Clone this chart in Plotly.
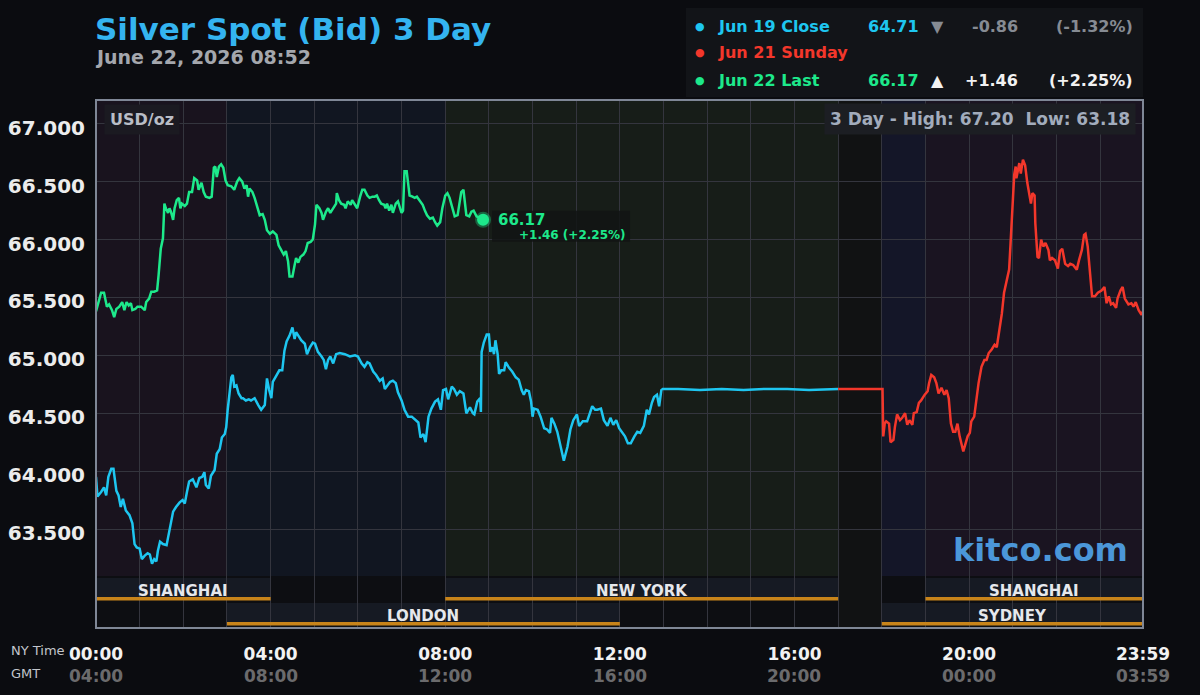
import plotly.graph_objects as go

# ---------------- data ----------------
title_text = "Silver Spot (Bid) 3 Day"
date_text = "June 22, 2026 08:52"

# Jun 19 (cyan) – minutes after NY midnight, price
jun19_min = [0, 2, 7, 11, 14, 17, 21, 24, 28, 31, 34, 37, 41, 46, 50, 53, 56, 60, 63, 67, 71, 74, 77, 80, 83, 85, 88, 92, 97, 101,
             106, 110, 115, 119, 122, 125, 128, 133, 138, 142, 146, 149, 151, 155, 158, 163, 166, 170, 173, 177, 179, 181, 184, 186,
             188, 190, 193, 196, 200, 202, 206, 210, 213, 218, 223, 227, 232, 235, 238, 241, 243, 248, 252, 256, 259, 262, 266, 270,
             273, 275, 279, 282, 287, 290, 294, 298, 301, 305, 310, 313, 316, 319, 322, 326, 330, 335, 342, 349, 356, 360, 365, 369,
             373, 376, 381, 385, 390, 394, 397, 400, 404, 408, 412, 415, 420, 424, 429, 434, 438, 443, 446, 450, 453, 457, 461, 466,
             470, 474, 477, 481, 484, 489, 492, 496, 500, 505, 509, 514, 518, 520, 524, 528, 529, 530, 533, 537, 540, 542, 545, 547,
             549, 552, 554, 557, 561, 563, 568, 572, 577, 581, 585, 588, 591, 595, 598, 600, 602, 607, 611, 616, 620, 624, 626, 630,
             634, 638, 641, 643, 648, 652, 656, 661, 664, 669, 675, 678, 682, 686, 689, 694, 698, 703, 707, 711, 715, 719, 724, 727,
             731, 735, 740, 744, 748, 753, 757, 760, 764, 767, 771, 774, 777, 779, 800, 830, 860, 890, 920, 950, 980, 1020]
jun19_px = [63.95, 63.78, 63.82, 63.86, 63.79, 63.95, 64.02, 64.02, 63.83, 63.79, 63.69, 63.76, 63.66, 63.62, 63.55, 63.37, 63.34,
            63.33, 63.24, 63.27, 63.29, 63.28, 63.20, 63.24, 63.22, 63.31, 63.39, 63.37, 63.36, 63.49, 63.65, 63.69, 63.73, 63.75,
            63.72, 63.82, 63.91, 63.93, 63.86, 63.94, 63.95, 63.99, 63.88, 63.85, 63.96, 64.01, 64.15, 64.19, 64.29, 64.32, 64.38,
            64.53, 64.67, 64.81, 64.83, 64.73, 64.74, 64.67, 64.63, 64.63, 64.61, 64.62, 64.61, 64.63, 64.57, 64.53, 64.57, 64.80,
            64.70, 64.63, 64.77, 64.83, 64.87, 64.87, 65.04, 65.12, 65.17, 65.24, 65.14, 65.20, 65.16, 65.13, 65.10, 65.01, 65.07,
            65.11, 65.10, 65.03, 64.99, 64.96, 64.88, 64.96, 64.99, 64.93, 65.01, 65.02, 65.01, 64.99, 65.00, 64.99, 64.93, 64.90,
            64.94, 64.93, 64.86, 64.83, 64.78, 64.80, 64.71, 64.74, 64.77, 64.78, 64.76, 64.68, 64.61, 64.53, 64.47, 64.47, 64.45,
            64.42, 64.29, 64.32, 64.25, 64.47, 64.54, 64.60, 64.62, 64.53, 64.70, 64.71, 64.62, 64.73, 64.71, 64.66, 64.69, 64.67,
            64.50, 64.55, 64.50, 64.49, 64.60, 64.63, 64.51, 65.03, 65.11, 65.18, 65.18, 65.03, 65.07, 65.01, 65.13, 65.01, 64.84,
            64.87, 64.87, 64.94, 64.89, 64.86, 64.81, 64.79, 64.70, 64.66, 64.70, 64.69, 64.60, 64.47, 64.54, 64.53, 64.47, 64.37,
            64.36, 64.33, 64.46, 64.41, 64.34, 64.24, 64.14, 64.09, 64.21, 64.36, 64.44, 64.49, 64.39, 64.43, 64.43, 64.49, 64.56,
            64.53, 64.53, 64.54, 64.44, 64.39, 64.46, 64.40, 64.44, 64.37, 64.33, 64.30, 64.24, 64.24, 64.30, 64.34, 64.33, 64.39,
            64.53, 64.49, 64.59, 64.64, 64.66, 64.56, 64.70, 64.71, 64.71, 64.70, 64.71, 64.70, 64.71, 64.71, 64.70, 64.71]

# Jun 21 Sunday (red)
jun21_min = [1020, 1081, 1082, 1084, 1086, 1090, 1092, 1096, 1098, 1101, 1105, 1108, 1112, 1115, 1118, 1122, 1124, 1128, 1131, 1134,
             1139, 1143, 1145, 1148, 1152, 1155, 1158, 1162, 1166, 1169, 1172, 1175, 1178, 1181, 1184, 1187, 1192, 1195, 1198, 1201,
             1203, 1207, 1210, 1213, 1217, 1221, 1224, 1227, 1231, 1235, 1238, 1241, 1245, 1248, 1252, 1255, 1257, 1259, 1262, 1264,
             1265, 1269, 1271, 1274, 1277, 1280, 1283, 1285, 1287, 1290, 1291, 1294, 1296, 1299, 1302, 1305, 1309, 1311, 1314, 1318,
             1322, 1325, 1328, 1332, 1336, 1339, 1343, 1348, 1351, 1355, 1358, 1360, 1363, 1366, 1369, 1373, 1377, 1382, 1386, 1389,
             1392, 1395, 1398, 1402, 1404, 1408, 1411, 1414, 1419, 1423, 1426, 1429, 1433, 1437, 1439]
jun21_px = [64.71, 64.71, 64.30, 64.41, 64.43, 64.41, 64.25, 64.27, 64.38, 64.49, 64.44, 64.46, 64.50, 64.40, 64.44, 64.40, 64.50,
            64.51, 64.59, 64.61, 64.66, 64.69, 64.76, 64.83, 64.81, 64.76, 64.67, 64.72, 64.66, 64.70, 64.63, 64.41, 64.34, 64.34,
            64.41, 64.30, 64.17, 64.24, 64.30, 64.33, 64.43, 64.47, 64.62, 64.76, 64.90, 64.96, 64.96, 65.02, 65.05, 65.09, 65.07,
            65.20, 65.36, 65.54, 65.64, 65.74, 65.97, 66.26, 66.56, 66.63, 66.53, 66.66, 66.57, 66.69, 66.64, 66.49, 66.40, 66.31,
            66.40, 66.38, 66.14, 65.85, 65.84, 66.00, 65.94, 65.97, 65.91, 65.82, 65.84, 65.82, 65.75, 65.90, 65.92, 65.79, 65.77,
            65.79, 65.78, 65.74, 65.82, 65.91, 66.04, 66.05, 65.94, 65.71, 65.51, 65.51, 65.54, 65.56, 65.59, 65.45, 65.51, 65.44,
            65.45, 65.41, 65.49, 65.56, 65.59, 65.49, 65.44, 65.45, 65.42, 65.46, 65.39, 65.35, 65.38]

# Jun 22 (green)
jun22_min = [0, 4, 7, 11, 15, 18, 22, 25, 28, 32, 36, 39, 42, 45, 48, 50, 54, 57, 62, 67, 69, 73, 76, 80, 84, 86, 89, 92, 93, 94, 96,
             99, 101, 103, 106, 108, 111, 114, 116, 118, 122, 125, 128, 132, 135, 139, 141, 145, 148, 151, 156, 159, 162, 164, 166,
             169, 172, 175, 178, 181, 186, 190, 194, 197, 201, 204, 207, 209, 211, 215, 218, 221, 225, 229, 232, 235, 239, 243, 248,
             251, 255, 258, 261, 264, 266, 270, 273, 275, 278, 281, 285, 288, 291, 295, 298, 301, 303, 307, 310, 312, 316, 319, 322,
             326, 330, 331, 334, 337, 341, 343, 346, 350, 352, 356, 359, 363, 366, 369, 373, 376, 380, 383, 386, 389, 392, 396, 398,
             400, 403, 406, 408, 412, 415, 418, 420, 422, 424, 427, 429, 431, 435, 438, 441, 445, 449, 452, 455, 459, 463, 466, 469,
             473, 476, 480, 483, 486, 490, 493, 497, 499, 502, 505, 507, 509, 513, 516, 519, 523, 532]
jun22_px = [65.38, 65.46, 65.54, 65.54, 65.42, 65.44, 65.39, 65.33, 65.40, 65.42, 65.46, 65.39, 65.46, 65.43, 65.45, 65.39, 65.40,
            65.42, 65.42, 65.39, 65.46, 65.49, 65.55, 65.55, 65.56, 65.69, 65.92, 66.01, 66.15, 66.31, 66.27, 66.23, 66.27, 66.24,
            66.17, 66.27, 66.34, 66.36, 66.27, 66.31, 66.29, 66.31, 66.41, 66.41, 66.53, 66.51, 66.43, 66.49, 66.41, 66.37, 66.36,
            66.37, 66.62, 66.63, 66.54, 66.63, 66.65, 66.62, 66.51, 66.47, 66.46, 66.43, 66.50, 66.53, 66.50, 66.44, 66.47, 66.37,
            66.44, 66.41, 66.36, 66.30, 66.21, 66.22, 66.17, 66.08, 66.05, 66.07, 66.04, 65.95, 65.91, 65.87, 65.90, 65.81, 65.68,
            65.68, 65.78, 65.84, 65.80, 65.85, 65.87, 65.90, 65.97, 65.98, 66.00, 66.13, 66.30, 66.27, 66.23, 66.17, 66.24, 66.27,
            66.23, 66.27, 66.31, 66.40, 66.34, 66.31, 66.30, 66.27, 66.33, 66.30, 66.34, 66.30, 66.27, 66.37, 66.43, 66.43, 66.38,
            66.36, 66.37, 66.37, 66.38, 66.34, 66.31, 66.30, 66.27, 66.31, 66.25, 66.30, 66.23, 66.31, 66.33, 66.27, 66.23, 66.25,
            66.59, 66.59, 66.50, 66.38, 66.37, 66.36, 66.37, 66.33, 66.30, 66.25, 66.21, 66.18, 66.19, 66.15, 66.12, 66.15, 66.27,
            66.38, 66.40, 66.36, 66.27, 66.20, 66.21, 66.31, 66.41, 66.43, 66.30, 66.21, 66.20, 66.24, 66.25, 66.20, 66.17]

# legend rows
leg_labels = ["Jun 19 Close", "Jun 21 Sunday", "Jun 22 Last"]
leg_values = ["64.71", "", "66.17"]
leg_arrows = ["▼", "", "▲"]
leg_changes = ["-0.86", "", "+1.46"]
leg_pcts = ["(-1.32%)", "", "(+2.25%)"]

last_value = 66.17
last_change = "+1.46 (+2.25%)"
high_3d, low_3d = 67.20, 63.18
unit_text = "USD/oz"

ny_ticks = [0, 4, 8, 12, 16, 20, 23 + 59 / 60]
ny_labels = ["00:00", "04:00", "08:00", "12:00", "16:00", "20:00", "23:59"]
gmt_labels = ["04:00", "08:00", "12:00", "16:00", "20:00", "00:00", "03:59"]
y_ticks = [63.5, 64.0, 64.5, 65.0, 65.5, 66.0, 66.5, 67.0]

# trading sessions (name, start hour, end hour, row)
sessions = [("SHANGHAI", 0, 4, 0), ("NEW YORK", 8, 17, 0), ("SHANGHAI", 19, 23 + 59 / 60, 0),
            ("LONDON", 3, 12, 1), ("SYDNEY", 18, 23 + 59 / 60, 1)]
# background shading of price area (start, end, color)
shade_bands = [(0, 3, "#19131e"), (3, 8, "#111621"), (8, 17, "#171d18"), (17, 18, "#111213"),
               (18, 19, "#141628"), (19, 23 + 59 / 60, "#1a1421")]

# ---------------- style ----------------
CYAN, RED, GREEN = "#1ec6f0", "#f3372b", "#1de98b"
BG = "#0b0c10"
GRID = "#34353e"
FONT = "DejaVu Sans"
W, H = 1200, 695
PL, PR, PT, PB = 96, 1143, 100, 628
YMIN, YMAX = 62.645, 67.205
XMAX = 23 + 59 / 60


def hrs(mins):
    return [m / 60 for m in mins]


def pxx(p):
    return (p - PL) / (PR - PL)


def pxy(p):
    return (PB - p) / (PB - PT)


fig = go.Figure()
fig.add_trace(go.Scatter(x=hrs(jun19_min), y=jun19_px, mode="lines", line=dict(color=CYAN, width=2.5)))
fig.add_trace(go.Scatter(x=hrs(jun21_min), y=jun21_px, mode="lines", line=dict(color=RED, width=2.5)))
fig.add_trace(go.Scatter(x=hrs(jun22_min), y=jun22_px, mode="lines", line=dict(color=GREEN, width=2.5)))
fig.add_trace(go.Scatter(x=[jun22_min[-1] / 60], y=[jun22_px[-1]], mode="markers",
                         marker=dict(size=12, color=GREEN, line=dict(width=4, color="rgba(29,233,139,0.35)"))))

shapes = []
price_bottom = pxy(576)
for x0, x1, col in shade_bands:
    shapes.append(dict(type="rect", xref="x", yref="paper", x0=x0, x1=x1, y0=price_bottom, y1=1,
                       fillcolor=col, line=dict(width=0), layer="below"))
# session area base
shapes.append(dict(type="rect", xref="paper", yref="paper", x0=0, x1=1, y0=0, y1=price_bottom,
                   fillcolor="#0d0e12", line=dict(width=0), layer="below"))
shapes.append(dict(type="rect", xref="x", yref="paper", x0=17, x1=18, y0=0, y1=price_bottom,
                   fillcolor="#111213", line=dict(width=0), layer="below"))
row_box = [(pxy(597), pxy(578)), (pxy(622), pxy(603))]
row_line = [(pxy(600.5), pxy(597)), (pxy(625.5), pxy(622))]
row_text_y = [pxy(591), pxy(616)]
annotations = []
for name, s0, s1, row in sessions:
    shapes.append(dict(type="rect", xref="x", yref="paper", x0=s0, x1=s1, y0=row_box[row][0], y1=row_box[row][1],
                       fillcolor="#161a23", line=dict(width=0), layer="below"))
    shapes.append(dict(type="rect", xref="x", yref="paper", x0=s0, x1=s1, y0=row_line[row][0], y1=row_line[row][1],
                       fillcolor="#c8841a", line=dict(width=0), layer="above"))
    annotations.append(dict(x=(s0 + s1) / 2, y=row_text_y[row], xref="x", yref="paper", text=name, showarrow=False,
                            font=dict(family=FONT, size=15, color="#e6e8ec", weight="bold"),
                            xanchor="center", yanchor="middle"))
# plot border
shapes.append(dict(type="rect", xref="paper", yref="paper", x0=0, x1=1, y0=0, y1=1,
                   line=dict(color="#7f8796", width=2), layer="above"))
# legend box
shapes.append(dict(type="rect", xref="paper", yref="paper", x0=pxx(686), x1=pxx(1143), y0=pxy(97), y1=pxy(8),
                   fillcolor="#121418", line=dict(width=0), layer="above"))
# label box next to last point
shapes.append(dict(type="rect", xref="x", yref="y", xsizemode="pixel", ysizemode="pixel",
                   xanchor=jun22_min[-1] / 60, yanchor=jun22_px[-1], x0=9, x1=147, y0=9, y1=-22,
                   fillcolor="rgba(18,20,20,0.85)", line=dict(width=0), layer="above"))

# title
annotations.append(dict(x=pxx(93), y=pxy(29), xref="paper", yref="paper", text=title_text, showarrow=False,
                        xanchor="left", yanchor="middle",
                        font=dict(family=FONT, size=31, color="#34b4f0", weight="bold")))
annotations.append(dict(x=pxx(93), y=pxy(57), xref="paper", yref="paper", text=date_text, showarrow=False,
                        xanchor="left", yanchor="middle",
                        font=dict(family=FONT, size=19, color="#a4a7ad", weight="bold")))
# legend rows
row_y = [26, 53, 80]
row_col = [CYAN, RED, GREEN]
rest_col = ["#868b93", None, "#f2f2f2"]
for i in range(3):
    yy = pxy(row_y[i])
    annotations.append(dict(x=pxx(700), y=yy, xref="paper", yref="paper", text="●", showarrow=False,
                            xanchor="center", yanchor="middle", font=dict(family=FONT, size=11, color=row_col[i])))
    annotations.append(dict(x=pxx(716), y=yy, xref="paper", yref="paper", text=leg_labels[i], showarrow=False,
                            xanchor="left", yanchor="middle",
                            font=dict(family=FONT, size=16, color=row_col[i], weight="bold")))
    if leg_values[i]:
        annotations.append(dict(x=pxx(866), y=yy, xref="paper", yref="paper", text=leg_values[i], showarrow=False,
                                xanchor="left", yanchor="middle",
                                font=dict(family=FONT, size=16, color=row_col[i], weight="bold")))
        annotations.append(dict(x=pxx(937), y=yy, xref="paper", yref="paper", text=leg_arrows[i], showarrow=False,
                                xanchor="center", yanchor="middle",
                                font=dict(family=FONT, size=16, color=rest_col[i], weight="bold")))
        annotations.append(dict(x=pxx(1020), y=yy, xref="paper", yref="paper", text=leg_changes[i], showarrow=False,
                                xanchor="right", yanchor="middle",
                                font=dict(family=FONT, size=16, color=rest_col[i], weight="bold")))
        annotations.append(dict(x=pxx(1135), y=yy, xref="paper", yref="paper", text=leg_pcts[i], showarrow=False,
                                xanchor="right", yanchor="middle",
                                font=dict(family=FONT, size=16, color=rest_col[i], weight="bold")))
# unit and high/low
annotations.append(dict(x=pxx(104), y=pxy(119), xref="paper", yref="paper", text=unit_text, showarrow=False,
                        xanchor="left", yanchor="middle", bgcolor="#1b1a21", borderpad=5,
                        font=dict(family=FONT, size=16, color="#b9bdc6", weight="bold")))
annotations.append(dict(x=pxx(1136), y=pxy(119), xref="paper", yref="paper",
                        text=f"3 Day - High: {high_3d:.2f}\u00a0 Low: {low_3d:.2f}", showarrow=False,
                        xanchor="right", yanchor="middle", bgcolor="#1c1e23", borderpad=5,
                        font=dict(family=FONT, size=17, color="#a2acbc", weight="bold")))
# watermark
annotations.append(dict(x=pxx(1130), y=pxy(550), xref="paper", yref="paper", text="kitco.com", showarrow=False,
                        xanchor="right", yanchor="middle",
                        font=dict(family=FONT, size=32, color="#4b97d9", weight="bold")))
# last value label
annotations.append(dict(x=jun22_min[-1] / 60, y=jun22_px[-1], xref="x", yref="y", text=f"{last_value:.2f}",
                        showarrow=False, xanchor="left", yanchor="middle", xshift=13, yshift=0,
                        font=dict(family=FONT, size=15, color=GREEN, weight="bold")))
annotations.append(dict(x=jun22_min[-1] / 60, y=jun22_px[-1], xref="x", yref="y", text=last_change,
                        showarrow=False, xanchor="right", yanchor="middle", xshift=145, yshift=-15,
                        font=dict(family=FONT, size=12, color=GREEN, weight="bold")))
# axis captions and GMT row
annotations.append(dict(x=pxx(9), y=pxy(650), xref="paper", yref="paper", text="NY Time", showarrow=False,
                        xanchor="left", yanchor="middle", font=dict(family=FONT, size=13, color="#c3c6cc")))
annotations.append(dict(x=pxx(9), y=pxy(673), xref="paper", yref="paper", text="GMT", showarrow=False,
                        xanchor="left", yanchor="middle", font=dict(family=FONT, size=13, color="#c3c6cc")))
for xv, g in zip(ny_ticks, gmt_labels):
    annotations.append(dict(x=xv, y=pxy(676), xref="x", yref="paper", text=g, showarrow=False,
                            xanchor="center", yanchor="middle",
                            font=dict(family=FONT, size=17, color="#6b6b6d", weight="bold")))

fig.update_layout(
    width=W, height=H,
    margin=dict(l=PL, r=W - PR, t=PT, b=H - PB, pad=0, autoexpand=False),
    paper_bgcolor=BG, plot_bgcolor="#0d0e12",
    showlegend=False, hovermode=False,
    shapes=shapes, annotations=annotations,
    xaxis=dict(range=[0, XMAX], tickmode="array", tickvals=ny_ticks, ticktext=ny_labels, automargin=False,
               showgrid=True, gridcolor=GRID, gridwidth=1, zeroline=False, showline=False,
               ticks="", ticklabelstandoff=14,
               tickfont=dict(family=FONT, size=17, color="#f2f2f2", weight="bold"),
               minor=dict(dtick=1, tick0=0, showgrid=True, gridcolor=GRID, gridwidth=1)),
    yaxis=dict(range=[YMIN, YMAX], tickmode="array", tickvals=y_ticks, tickformat=".3f", automargin=False,
               showgrid=True, gridcolor=GRID, gridwidth=1, zeroline=False, showline=False,
               ticks="", ticklabelstandoff=10, ticklabelshift=4,
               tickfont=dict(family=FONT, size=20, color="#ececec", weight="bold")),
)

fig.write_html("out.html")
